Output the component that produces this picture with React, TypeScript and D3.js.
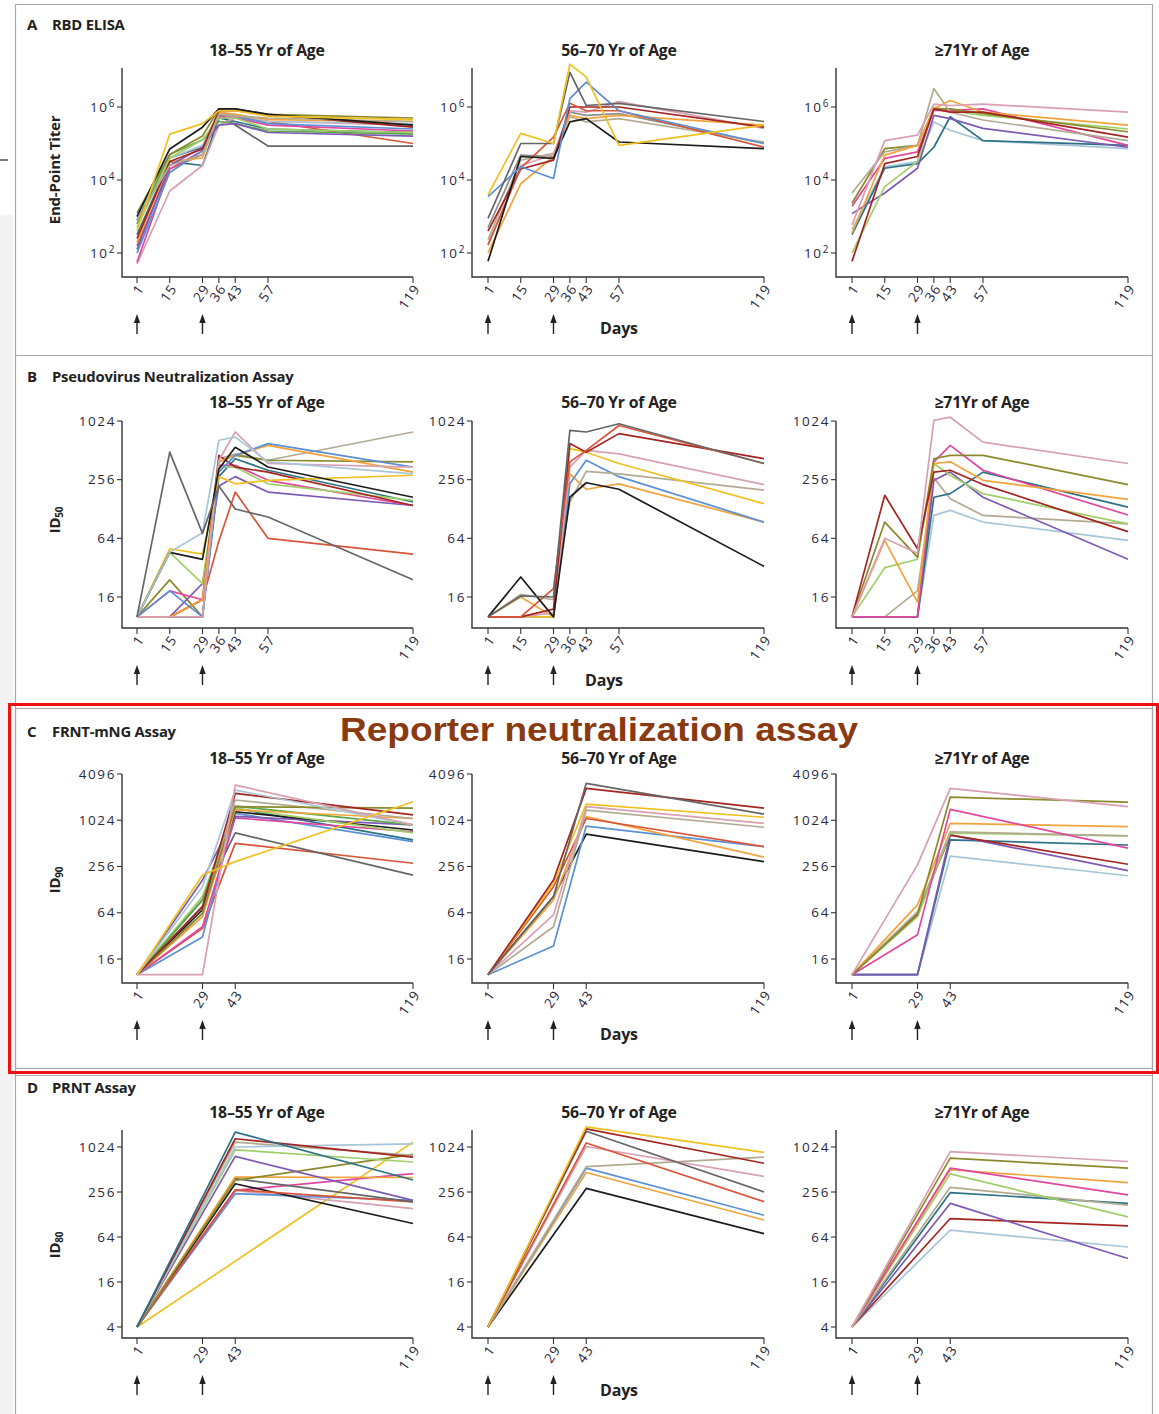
import React from 'react';
import * as d3 from 'd3';

// ---------- categories / ticks ----------
const DAYS_AB = [1, 15, 29, 36, 43, 57, 119];
const DAYS_C = [1, 29, 43, 119];
const DAYS_D = [1, 43, 119];
const XTICKS_AB = [1, 15, 29, 36, 43, 57, 119];
const XTICKS_CD = [1, 29, 43, 119];
const TICKS_A = [1e2, 1e4, 1e6];
const TICKS_B = [16, 64, 256, 1024];
const TICKS_C = [16, 64, 256, 1024, 4096];
const TICKS_D = [4, 16, 64, 256, 1024];
const AGE_GROUPS = ['18–55 Yr of Age', '56–70 Yr of Age', '≥71Yr of Age'];
const VACCINE_DAYS = [1, 29];

// ---------- A: RBD ELISA end-point titers ----------
const RBD_18_55: Record<string, (number | null)[]> = {
  darkgray: [790, 4.0e4, 7.9e4, 6.3e5, 3.2e5, 8.5e4, 8.5e4],
  teal: [320, 3.2e4, 2.5e4, 5.0e5, 4.0e5, 2.5e5, 2.0e5],
  pink: [50, 5000, 2.5e4, 3.2e5, 5.0e5, 4.0e5, 3.2e5],
  red: [160, 2.0e4, 5.0e4, 6.3e5, 5.6e5, 4.0e5, 1.0e5],
  magenta: [56, 2.0e4, 6.3e4, 5.6e5, 5.0e5, 3.2e5, 2.2e5],
  blue: [100, 1.6e4, 6.3e4, 6.3e5, 5.6e5, 3.5e5, 2.5e5],
  lightblue: [1000, 4.0e4, 8.9e4, 7.1e5, 6.3e5, 4.0e5, 3.5e5],
  green: [630, 5.0e4, 1.26e5, 4.0e5, 3.5e5, 2.2e5, 1.8e5],
  orange: [200, 3.2e4, 4.0e4, 7.1e5, 6.3e5, 4.5e5, 4.0e5],
  purple: [126, 2.5e4, 7.9e4, 3.2e5, 3.5e5, 2.0e5, 1.6e5],
  lightgreen: [500, 4.0e4, 1.26e5, 5.0e5, 5.0e5, 2.5e5, 2.0e5],
  darkred: [250, 3.2e4, 7.1e4, 7.9e5, 7.9e5, 6.3e5, 2.8e5],
  tan: [790, 2.5e4, 5.0e4, 6.3e5, 5.6e5, 5.0e5, 4.0e5],
  olive: [1260, 5.0e4, 1.6e5, 8.9e5, 8.9e5, 6.3e5, 5.0e5],
  black: [1000, 7.1e4, 2.8e5, 8.9e5, 8.9e5, 6.3e5, 3.2e5],
  yellow: [400, 1.8e5, 3.5e5, 7.9e5, 7.9e5, 5.6e5, 4.5e5],
};
const RBD_56_70: Record<string, (number | null)[]> = {
  gray: [500, 4.8e4, 4.4e4, 7.2e5, 5.9e5, 6.6e5, 1.0e5],
  tan: [230, 3.5e4, 5.4e4, 5.4e5, 3.9e5, 4.8e5, 1.1e5],
  orange: [100, 7900, 4.4e4, 5.9e5, 4.8e5, 5.9e5, 3.2e5],
  pink: [160, 2.5e4, 5.0e4, 7.9e5, 7.2e5, 1.4e6, 2.6e5],
  darkred: [400, 2.0e4, 3.5e4, 1.0e6, 1.0e6, 1.0e6, 2.8e5],
  red: [170, 2.1e4, 1.5e5, 1.26e6, 7.9e5, 7.9e5, 7.9e4],
  black: [59, 4.4e4, 3.9e4, 3.9e5, 4.8e5, 1.1e5, 7.2e4],
  blue: [3500, 2.3e4, 1.1e4, 1.7e6, 4.8e6, 7.9e5, 1.0e5],
  darkgray: [890, 1.0e5, 1.0e5, 8.9e6, 1.1e6, 1.26e6, 4.0e5],
  yellow: [3900, 1.9e5, 1.0e5, 1.5e7, 6.6e6, 8.9e4, 3.2e5],
};
const RBD_71: Record<string, (number | null)[]> = {
  lightblue: [440, 2.3e4, 3.2e4, 3.9e5, 2.3e5, 1.2e5, 7.2e4],
  teal: [320, 2.1e4, 2.8e4, 7.9e4, 5.4e5, 1.2e5, 8.9e4],
  purple: [1200, 4400, 2.1e4, 5.9e5, 4.8e5, 2.6e5, 7.9e4],
  lightgreen: [100, 6600, 3.2e4, 1.0e6, 7.9e5, 5.9e5, 2.5e5],
  magenta: [1900, 3.9e4, 5.9e4, 8.1e5, 8.1e5, 8.9e5, 8.9e4],
  olive: [2300, 7.2e4, 8.9e4, 8.9e5, 8.9e5, 6.6e5, 2.1e5],
  tan: [4400, 5.9e4, 8.9e4, 3.2e6, 7.2e5, 4.4e5, 1.2e5],
  orange: [350, 4.8e4, 8.9e4, 8.9e5, 1.5e6, 7.2e5, 3.2e5],
  pink: [590, 1.2e5, 1.7e5, 1.2e6, 1.1e6, 1.2e6, 7.2e5],
  darkred: [59, 2.8e4, 4.4e4, 8.9e5, 7.2e5, 7.2e5, 1.5e5],
};

// ---------- B: pseudovirus neutralization ID50 ----------
const PSV_18_55: Record<string, (number | null)[]> = {
  tan: [10, 10, 10, 420, 470, 405, 790],
  olive: [10, 24, 10, 390, 455, 405, 390],
  teal: [10, 10, 10, 275, 420, 320, 151],
  purple: [10, 10, 22, 220, 275, 191, 139],
  magenta: [10, 18.5, 15, 360, 360, 252, 139],
  lightgreen: [10, 46, 22, 345, 345, 232, 157],
  red: [10, 10, 15, 60, 191, 64, 44],
  darkred: [10, 10, 15, 455, 345, 306, 139],
  orange: [10, 10, 15, 390, 455, 576, 306],
  blue: [10, 18.5, 10, 306, 455, 600, 345],
  pink: [10, 10, 10, 405, 790, 375, 345],
  yellow: [10, 50, 44, 275, 232, 252, 284],
  black: [10, 46, 39, 330, 550, 345, 169],
  lightblue: [10, 46, 73, 650, 700, 390, 294],
  darkgray: [10, 490, 72, 220, 128, 106, 24],
};
const PSV_56_70: Record<string, (number | null)[]> = {
  orange: [10, 16, 10, 294, 204, 232, 94],
  blue: [10, 10, 10, 232, 405, 275, 94],
  tan: [10, 17, 15, 151, 311, 294, 200],
  yellow: [10, 10, 10, 533, 490, 375, 145],
  pink: [10, 10, 11, 345, 512, 470, 228],
  darkred: [10, 10, 12, 600, 490, 760, 420],
  red: [10, 10, 19.5, 390, 512, 920, 375],
  black: [10, 25.7, 10, 169, 238, 204, 33],
  darkgray: [10, 16.4, 16, 820, 790, 960, 375],
};
const PSV_71: Record<string, (number | null)[]> = {
  lightblue: [10, 10, 10, 110, 124, 94, 61],
  tan: [10, 10, 18.5, 267, 163, 110, 90],
  purple: [10, 10, 10, 252, 306, 169, 39],
  teal: [10, 10, 10, 169, 184, 306, 134],
  magenta: [10, 10, 10, 390, 576, 320, 111],
  lightgreen: [10, 32, 39, 375, 284, 184, 90],
  orange: [10, 61, 14.2, 375, 390, 252, 161],
  olive: [10, 94, 41, 420, 455, 455, 228],
  darkred: [10, 177, 50, 306, 320, 228, 75],
  pink: [10, 64, 45, 1040, 1120, 622, 375],
};

// ---------- C: FRNT-mNG ID90 ----------
const FRNT_18_55: Record<string, (number | null)[]> = {
  red: [10, 40, 512, 282],
  darkgray: [10, 94, 700, 198],
  blue: [10, 31, 1260, 540],
  teal: [10, 77, 1470, 570],
  magenta: [10, 42, 1100, 725],
  purple: [10, 171, 1150, 890],
  black: [10, 70, 1320, 765],
  lightgreen: [10, 104, 1470, 700],
  green: [10, 94, 1560, 890],
  orange: [10, 57, 1400, 1080],
  tan: [10, 63, 1880, 1080],
  olive: [10, 63, 1540, 1470],
  darkred: [10, 77, 2290, 1200],
  lightblue: [10, 140, 2530, 890],
  pink: [10, 10, 2940, 890],
  yellow: [10, 198, 296, 1780],
};
const FRNT_56_70: Record<string, (number | null)[]> = {
  black: [10, 104, 675, 296],
  blue: [10, 23.6, 860, 465],
  orange: [10, 94, 1140, 338],
  red: [10, 140, 1080, 465],
  tan: [10, 42, 1390, 830],
  pink: [10, 60, 1540, 935],
  yellow: [10, 154, 1660, 1120],
  darkred: [10, 171, 2660, 1470],
  darkgray: [10, 104, 3100, 1230],
};
const FRNT_71: Record<string, (number | null)[]> = {
  lightblue: [10, 10, 350, 194],
  teal: [10, 10, 568, 488],
  purple: [10, 10, 659, 226],
  darkred: [10, 62, 657, 274],
  lightgreen: [10, 57, 695, 640],
  tan: [10, 66, 725, 640],
  orange: [10, 81, 935, 845],
  magenta: [10, 33, 1420, 443],
  olive: [10, 60, 2050, 1760],
  pink: [10, 269, 2660, 1540],
};

// ---------- D: PRNT ID80 ----------
const PRNT_18_55: Record<string, (number | null)[]> = {
  yellow: [4, null, 1190],
  pink: [4, 269, 153],
  blue: [4, 243, 198],
  magenta: [4, 269, 450],
  black: [4, 330, 97],
  red: [4, 274, 189],
  darkgray: [4, 386, 189],
  orange: [4, 406, 400],
  olive: [4, 367, 815],
  purple: [4, 766, 198],
  lightgreen: [4, 940, 645],
  tan: [4, 1190, 790],
  lightblue: [4, 1024, 1130],
  darkred: [4, 1320, 750],
  teal: [4, 1620, 370],
};
const PRNT_56_70: Record<string, (number | null)[]> = {
  black: [4, 286, 71],
  orange: [4, 467, 108],
  blue: [4, 533, 125],
  tan: [4, 560, 750],
  pink: [4, 1040, 413],
  red: [4, 1160, 190],
  darkgray: [4, 1660, 256],
  darkred: [4, 1790, 620],
  yellow: [4, 1900, 870],
};
const PRNT_71: Record<string, (number | null)[]> = {
  lightblue: [4, 79, 47],
  darkred: [4, 113, 90],
  purple: [4, 180, 33],
  teal: [4, 251, 180],
  tan: [4, 296, 171],
  lightgreen: [4, 448, 119],
  orange: [4, 508, 342],
  magenta: [4, 533, 234],
  olive: [4, 727, 533],
  pink: [4, 890, 655],
};

// ---------- styles ----------
const PALETTE: Record<string, string> = {
  yellow: '#f0c020',
  black: '#1c1c1c',
  darkgray: '#666666',
  gray: '#8e8e8e',
  blue: '#5b8fd6',
  lightblue: '#a8c6d8',
  orange: '#f2a33c',
  red: '#d9553a',
  darkred: '#a32420',
  pink: '#d8a0b2',
  magenta: '#e0479e',
  purple: '#7e5ab4',
  olive: '#8a8a2c',
  green: '#5ea84a',
  lightgreen: '#a0cf6a',
  teal: '#2c7186',
  tan: '#b2ab92',
};

const FONT = "'Open Sans', 'Noto Sans', sans-serif";
const DAY1_X = [137, 488, 852];
const AXIS_X = [122, 472, 836];
const PLOT_W = 276;
const SUB_X = [267, 619, 982];

type Row = {
  letter: string;
  title: string;
  ylab: string;
  ysub: string;
  days: number[];
  xticks: number[];
  ticks: number[];
  refV: [number, number];
  refY: [number, number];
  top: number;
  bottom: number;
  titleY: number;
  subY: number;
  ylabelY: number;
  daysLabelY: number;
  daysLabelX: number;
  panels: Record<string, (number | null)[]>[];
  sup: boolean;
};

const ROWS: Row[] = [
  { letter: 'A', title: 'RBD ELISA', ylab: 'End-Point Titer', ysub: '', days: DAYS_AB, xticks: XTICKS_AB, ticks: TICKS_A, refV: [1e2, 1e6], refY: [253, 107], top: 68, bottom: 277, titleY: 30, subY: 56, ylabelY: 170, daysLabelY: 334, daysLabelX: 619, panels: [RBD_18_55, RBD_56_70, RBD_71], sup: true },
  { letter: 'B', title: 'Pseudovirus Neutralization Assay', ylab: 'ID', ysub: '50', days: DAYS_AB, xticks: XTICKS_AB, ticks: TICKS_B, refV: [16, 1024], refY: [597, 421], top: 421, bottom: 628, titleY: 382, subY: 408, ylabelY: 520, daysLabelY: 686, daysLabelX: 604, panels: [PSV_18_55, PSV_56_70, PSV_71], sup: false },
  { letter: 'C', title: 'FRNT-mNG Assay', ylab: 'ID', ysub: '90', days: DAYS_C, xticks: XTICKS_CD, ticks: TICKS_C, refV: [16, 4096], refY: [959, 774], top: 774, bottom: 983, titleY: 737, subY: 764, ylabelY: 880, daysLabelY: 1040, daysLabelX: 619, panels: [FRNT_18_55, FRNT_56_70, FRNT_71], sup: false },
  { letter: 'D', title: 'PRNT Assay', ylab: 'ID', ysub: '80', days: DAYS_D, xticks: XTICKS_CD, ticks: TICKS_D, refV: [4, 1024], refY: [1327, 1147], top: 1130, bottom: 1338, titleY: 1093, subY: 1118, ylabelY: 1245, daysLabelY: 1396, daysLabelX: 619, panels: [PRNT_18_55, PRNT_56_70, PRNT_71], sup: false },
];

function Panel({ row, pi }: { row: Row; pi: number }) {
  const x = d3.scaleLinear().domain([1, 119]).range([DAY1_X[pi], DAY1_X[pi] + PLOT_W]);
  const y = d3.scaleLog().domain(row.refV).range(row.refY);
  const data = row.panels[pi];
  const line = d3
    .line<[number, number]>()
    .x((d) => x(d[0]))
    .y((d) => y(d[1]));
  const ax = AXIS_X[pi];
  const xEnd = x(119);
  return (
    <g>
      {Object.entries(data).map(([name, vals]) => {
        const pts: [number, number][] = [];
        vals.forEach((v, i) => {
          if (v != null) pts.push([row.days[i], v]);
        });
        return (
          <path
            key={name}
            d={line(pts) || ''}
            fill="none"
            stroke={PALETTE[name]}
            strokeWidth={1.7}
            strokeLinejoin="round"
          />
        );
      })}
      <path d={`M${ax},${row.top}V${row.bottom}H${xEnd}`} fill="none" stroke="#333" strokeWidth={1.4} />
      {row.ticks.map((t) => (
        <g key={t}>
          <line x1={ax - 5} x2={ax} y1={y(t)} y2={y(t)} stroke="#333" strokeWidth={1.1} />
          <text x={ax - 6} y={y(t)} dy="0.35em" textAnchor="end" fontSize={13.5} letterSpacing={1.6} fill="#2a2a3a" fontFamily={FONT}>
            {row.sup ? (
              <>
                10<tspan dy={-5} fontSize={10}>{Math.round(Math.log10(t))}</tspan>
              </>
            ) : (
              t
            )}
          </text>
        </g>
      ))}
      {row.xticks.map((d) => (
        <g key={d}>
          <line x1={x(d)} x2={x(d)} y1={row.bottom} y2={row.bottom + 6} stroke="#333" strokeWidth={1.1} />
          <text
            transform={`translate(${x(d) + 4},${row.bottom + 9}) rotate(-55)`}
            textAnchor="end"
            dy="0.35em"
            fontSize={13.5}
            letterSpacing={1}
            fill="#2a2a3a"
            fontFamily={FONT}
          >
            {d}
          </text>
        </g>
      ))}
      {VACCINE_DAYS.map((d) => (
        <g key={'arr' + d}>
          <line x1={x(d)} x2={x(d)} y1={row.bottom + 42} y2={row.bottom + 57} stroke="#222" strokeWidth={1.4} />
          <path
            d={`M${x(d)},${row.bottom + 37}L${x(d) + 3.2},${row.bottom + 46}L${x(d) - 3.2},${row.bottom + 46}Z`}
            fill="#222"
          />
        </g>
      ))}
      <text x={SUB_X[pi]} y={row.subY} textAnchor="middle" fontSize={15.8} fontWeight={700} letterSpacing={-0.2} fill="#222" fontFamily={FONT}>
        {AGE_GROUPS[pi]}
      </text>
    </g>
  );
}

export default function App() {
  return (
    <svg
      width={1159}
      height={1414}
      viewBox="0 0 1159 1414"
      style={{ position: 'absolute', left: 0, top: 0, background: '#fff' }}
    >
      <rect x={0} y={0} width={1159} height={1414} fill="#fff" />
      <rect x={0} y={215} width={13} height={1199} fill="#f3f3f3" />
      <line x1={0} x2={8} y1={160} y2={160} stroke="#555" strokeWidth={1.5} />
      <g stroke="#a8a8a8" strokeWidth={1.2} fill="none">
        <path d="M15.5,4.5H1152.5V1414" />
        <path d="M15.5,4.5V1414" />
        <path d="M15.5,355.5H1152.5" />
        <path d="M15.5,1075.5H1152.5" />
      </g>
      {ROWS.map((row) => (
        <g key={row.letter}>
          <text x={27} y={row.titleY} fontSize={15} fontWeight={700} fill="#222" fontFamily={FONT}>
            {row.letter}
          </text>
          <text x={52} y={row.titleY} fontSize={14.8} fontWeight={700} letterSpacing={-0.2} fill="#222" fontFamily={FONT}>
            {row.title}
          </text>
          <text
            transform={`translate(60,${row.ylabelY}) rotate(-90)`}
            textAnchor="middle"
            fontSize={15}
            fontWeight={700}
            letterSpacing={-0.2}
            fill="#222"
            fontFamily={FONT}
          >
            {row.ylab}
            {row.ysub ? (
              <tspan dy={3} fontSize={10}>
                {row.ysub}
              </tspan>
            ) : null}
          </text>
          {[0, 1, 2].map((pi) => (
            <Panel key={pi} row={row} pi={pi} />
          ))}
          <text x={row.daysLabelX} y={row.daysLabelY} textAnchor="middle" fontSize={16} fontWeight={700} letterSpacing={-0.2} fill="#222" fontFamily={FONT}>
            Days
          </text>
        </g>
      ))}
      <rect x={15.5} y={708.5} width={1137} height={360} fill="none" stroke="#a8a8a8" strokeWidth={1.2} />
      <rect x={9.5} y={704.5} width={1148} height={368} fill="none" stroke="#ee1111" strokeWidth={3} />
      <text
        x={599}
        y={741}
        textAnchor="middle"
        fontSize={33}
        fontWeight={700}
        fill="#8a3a10"
        fontFamily="'Liberation Sans', Arial, sans-serif"
        textLength={518}
        lengthAdjust="spacingAndGlyphs"
      >
        Reporter neutralization assay
      </text>
    </svg>
  );
}
